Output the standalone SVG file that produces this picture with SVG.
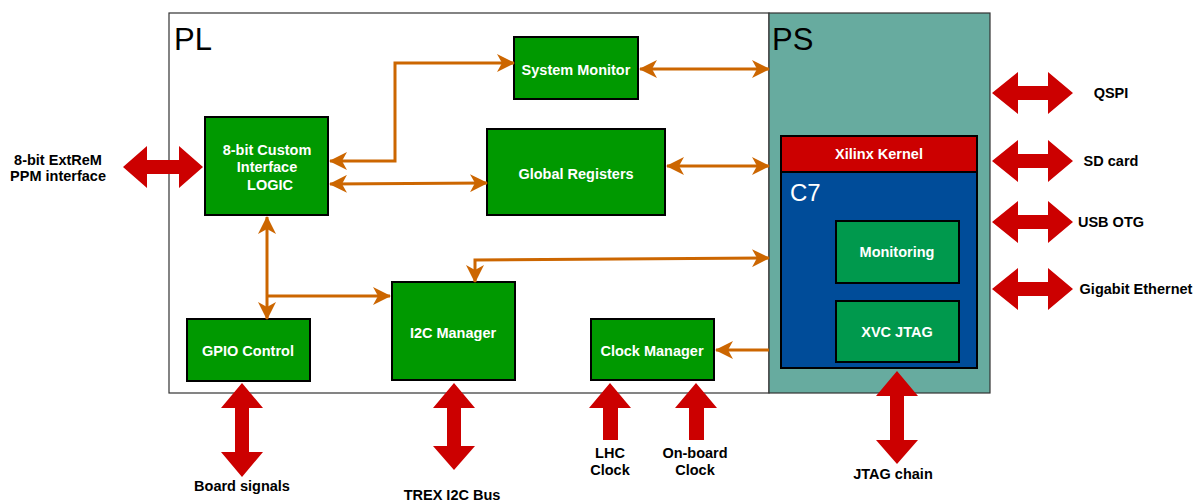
<svg xmlns="http://www.w3.org/2000/svg" width="1199" height="502" viewBox="0 0 1199 502">
<style>
.box{fill:#009900;stroke:#000;stroke-width:2}
.sub{fill:#00994D;stroke:#000;stroke-width:2}
.wt{font-family:"Liberation Sans",Arial,sans-serif;font-weight:bold;font-size:14.5px;fill:#fff;text-anchor:middle}
.bt{font-family:"Liberation Sans",Arial,sans-serif;font-weight:bold;font-size:14.5px;fill:#000;text-anchor:middle}
.big{font-family:"Liberation Sans",Arial,sans-serif;font-size:31px}
.con{fill:none;stroke:#CC6600;stroke-width:3}
.red{fill:#CC0000}
</style>
<defs>
<marker id="ah" markerUnits="userSpaceOnUse" markerWidth="18" markerHeight="18" viewBox="0 0 18 18" refX="17" refY="9" orient="auto-start-reverse">
<path d="M0,0 L18,9 L0,18 L5,9 Z" fill="#CC6600"/>
</marker>
</defs>
<rect width="1199" height="502" fill="#fff"/>
<g id="PL">
<rect x="169" y="13" width="600" height="380" fill="#fff" stroke="#333" stroke-width="1.2"/>
<text x="174" y="50" class="big" fill="#000">PL</text>
</g>
<g id="PS">
<rect x="769" y="13" width="221" height="380" fill="#67AB9F" stroke="#333" stroke-width="1.2"/>
<text x="772" y="50" class="big" fill="#000">PS</text>
</g>
<g id="C7">
<rect x="781" y="172" width="196" height="196" fill="#004C99" stroke="#000" stroke-width="2"/>
<text x="790" y="201" font-family="Liberation Sans,Arial,sans-serif" font-size="24" fill="#fff">C7</text>
</g>
<g id="xilinx-kernel">
<rect x="781" y="136" width="196" height="36" fill="#CC0000" stroke="#000" stroke-width="2"/>
<text x="879" y="159" class="wt">Xilinx Kernel</text>
</g>
<g id="monitoring">
<rect x="836" y="221" width="123" height="62" class="sub"/>
<text x="897" y="257" class="wt">Monitoring</text>
</g>
<g id="xvc-jtag">
<rect x="836" y="301" width="123" height="61" class="sub"/>
<text x="897" y="337" class="wt">XVC JTAG</text>
</g>
<g id="custom-logic">
<rect x="205" y="117" width="123" height="98" class="box"/>
<text x="267" y="155" class="wt">8-bit Custom</text>
<text x="267" y="172" class="wt">Interface</text>
<text x="270" y="190" class="wt">LOGIC</text>
</g>
<g id="system-monitor">
<rect x="514" y="37" width="124" height="62" class="box"/>
<text x="576" y="75" class="wt">System Monitor</text>
</g>
<g id="global-registers">
<rect x="487" y="129" width="178" height="86" class="box"/>
<text x="576" y="179" class="wt">Global Registers</text>
</g>
<g id="gpio-control">
<rect x="187" y="319" width="123" height="62" class="box"/>
<text x="248" y="356" class="wt">GPIO Control</text>
</g>
<g id="i2c-manager">
<rect x="392" y="282" width="123" height="98" class="box"/>
<text x="453" y="338" class="wt">I2C Manager</text>
</g>
<g id="clock-manager">
<rect x="591" y="319" width="123" height="61" class="box"/>
<text x="652" y="356" class="wt">Clock Manager</text>
</g>
<g id="connectors">
<path class="con" d="M330,161 H395 V63 H514" marker-start="url(#ah)" marker-end="url(#ah)"/>
<path class="con" d="M330,184 L487,183" marker-start="url(#ah)" marker-end="url(#ah)"/>
<path class="con" d="M640,69 H769" marker-start="url(#ah)" marker-end="url(#ah)"/>
<path class="con" d="M667,166 H769" marker-start="url(#ah)" marker-end="url(#ah)"/>
<path class="con" d="M267,217 V319" marker-start="url(#ah)" marker-end="url(#ah)"/>
<path class="con" d="M267,296 H390" marker-end="url(#ah)"/>
<path class="con" d="M475,282 V260 L769,258" marker-start="url(#ah)" marker-end="url(#ah)"/>
<path class="con" d="M769,350 H716" marker-end="url(#ah)"/>
</g>
<g id="ext-arrows">
<path class="red" d="M123,167 L147,146 L147,160 L179,160 L179,146 L203,167 L179,188 L179,174 L147,174 L147,188 Z"/>
<path class="red" d="M992,93 L1018,72 L1018,86 L1048,86 L1048,72 L1073,93 L1048,114 L1048,100 L1018,100 L1018,114 Z"/>
<path class="red" d="M992,161 L1018,140 L1018,154 L1048,154 L1048,140 L1073,161 L1048,182 L1048,168 L1018,168 L1018,182 Z"/>
<path class="red" d="M992,222 L1018,201 L1018,215 L1048,215 L1048,201 L1073,222 L1048,243 L1048,229 L1018,229 L1018,243 Z"/>
<path class="red" d="M992,289 L1018,268 L1018,282 L1048,282 L1048,268 L1073,289 L1048,310 L1048,296 L1018,296 L1018,310 Z"/>
<path class="red" d="M242,383 L263,408 L249,408 L249,452 L263,452 L242,477 L221,452 L235,452 L235,408 L221,408 Z"/>
<path class="red" d="M454,383 L475,408 L461,408 L461,446 L475,446 L454,470 L433,446 L447,446 L447,408 L433,408 Z"/>
<path class="red" d="M610,383 L631,408 L618,408 L618,440 L603,440 L603,408 L589,408 Z"/>
<path class="red" d="M696,383 L717,408 L704,408 L704,440 L689,440 L689,408 L675,408 Z"/>
<path class="red" d="M897,371 L918,396 L904,396 L904,440 L918,440 L897,464 L876,440 L890,440 L890,396 L876,396 Z"/>
</g>
<g id="labels">
<text x="58" y="165" class="bt">8-bit ExtReM</text>
<text x="58" y="181" class="bt">PPM interface</text>
<text x="1111" y="98" class="bt">QSPI</text>
<text x="1111" y="166" class="bt">SD card</text>
<text x="1111" y="227" class="bt">USB OTG</text>
<text x="1136" y="294" class="bt">Gigabit Ethernet</text>
<text x="242" y="491" class="bt">Board signals</text>
<text x="452" y="500" class="bt">TREX I2C Bus</text>
<text x="610" y="458" class="bt">LHC</text>
<text x="610" y="475" class="bt">Clock</text>
<text x="695" y="458" class="bt">On-board</text>
<text x="695" y="475" class="bt">Clock</text>
<text x="893" y="479" class="bt">JTAG chain</text>
</g>
</svg>
